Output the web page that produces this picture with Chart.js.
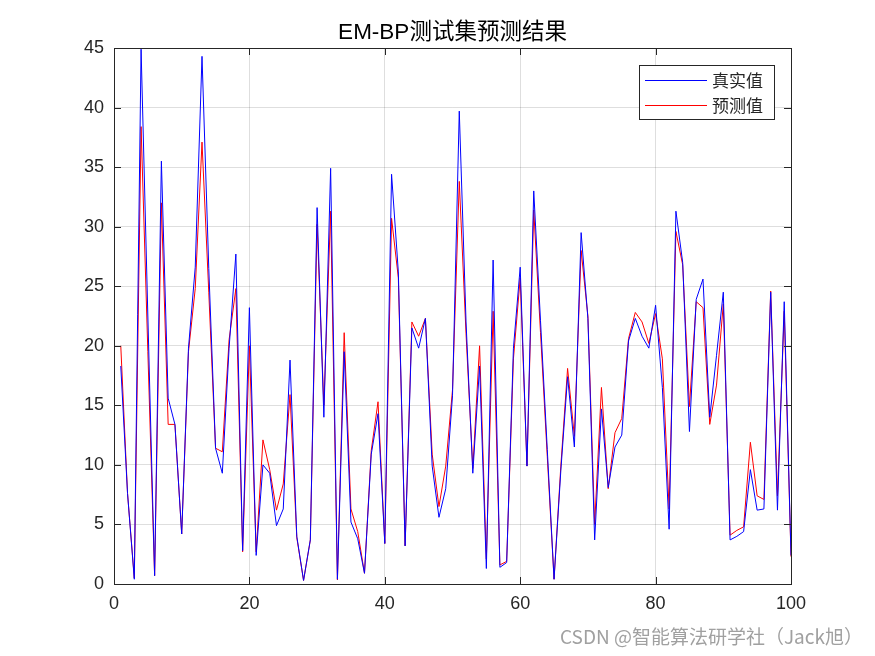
<!DOCTYPE html>
<html lang="zh">
<head>
    <meta charset="UTF-8">
    <title>EM-BP测试集预测结果</title>
    <script src="https://cdn.jsdelivr.net/npm/chart.js"></script>
    <style>
        body { margin: 0; background: #fff; }
        #wrap { position: relative; width: 875px; height: 656px; }
        #mark {
            position: absolute; right: 12px; top: 622px;
            font: 19px 'Noto Sans CJK SC', 'Liberation Sans', sans-serif;
            color: #a0a0a0;
        }
    </style>
</head>
<body>
<div id="wrap">
    <canvas id="myChart" width="875" height="656"></canvas>
    <div id="mark">CSDN @智能算法研学社（Jack旭）</div>
</div>

<script>
    const samples = [1,2,3,4,5,6,7,8,9,10,11,12,13,14,15,16,17,18,19,20,
        21,22,23,24,25,26,27,28,29,30,31,32,33,34,35,36,37,38,39,40,
        41,42,43,44,45,46,47,48,49,50,51,52,53,54,55,56,57,58,59,60,
        61,62,63,64,65,66,67,68,69,70,71,72,73,74,75,76,77,78,79,80,
        81,82,83,84,85,86,87,88,89,90,91,92,93,94,95,96,97,98,99,100];

    const trueVals = [18.3, 7.6, 0.4, 44.9, 22.5, 0.7, 35.5, 15.6, 13.4, 4.2,
        19.8, 26.6, 44.3, 26.5, 11.4, 9.3, 19.8, 27.7, 2.8, 23.2,
        2.4, 10.0, 9.3, 4.9, 6.3, 18.8, 4.0, 0.3, 3.7, 31.6,
        14.0, 34.9, 0.4, 19.5, 5.2, 3.8, 0.9, 10.9, 14.3, 3.4,
        34.4, 26.2, 3.2, 21.5, 19.8, 22.3, 9.9, 5.6, 8.0, 15.8,
        39.7, 22.0, 9.3, 18.3, 1.3, 27.2, 1.4, 1.8, 19.8, 26.6,
        9.9, 33.0, 22.1, 11.3, 0.4, 9.5, 17.4, 11.5, 29.5, 22.3,
        3.7, 14.7, 8.1, 11.5, 12.5, 20.4, 22.3, 20.8, 19.8, 23.4,
        16.5, 4.6, 31.3, 27.0, 12.8, 23.9, 25.6, 14.0, 19.2, 24.5,
        3.7, 4.0, 4.4, 9.6, 6.2, 6.3, 24.5, 6.2, 23.7, 2.4];

    const predVals = [20.0, 7.6, 0.5, 38.4, 19.5, 0.7, 32.0, 13.4, 13.4, 4.2,
        19.5, 24.8, 37.1, 24.5, 11.4, 11.1, 20.5, 24.8, 2.7, 20.0,
        2.7, 12.1, 9.6, 6.2, 8.4, 15.9, 3.9, 0.3, 3.7, 30.2,
        15.0, 31.3, 0.35, 21.1, 6.3, 4.4, 0.9, 11.2, 15.3, 3.4,
        30.7, 25.7, 3.2, 22.0, 20.8, 22.3, 10.9, 6.5, 9.9, 16.3,
        33.8, 21.0, 9.7, 20.0, 2.1, 22.9, 1.6, 1.9, 18.9, 25.7,
        9.9, 31.4, 21.1, 10.7, 0.4, 9.9, 18.1, 12.4, 28.0, 22.5,
        5.0, 16.5, 8.0, 12.7, 13.9, 20.6, 22.8, 22.0, 20.2, 22.7,
        18.9, 6.3, 29.6, 26.8, 14.9, 23.7, 23.2, 13.4, 16.7, 23.5,
        4.1, 4.5, 4.8, 11.9, 7.4, 7.1, 24.6, 7.4, 22.9, 2.3];

    const seriesNames = ['真实值', '预测值'];
    const chartTitle = 'EM-BP测试集预测结果';
    const xTicks = [0, 20, 40, 60, 80, 100];
    const yTicks = [0, 5, 10, 15, 20, 25, 30, 35, 40, 45];

    const latin = "'Liberation Sans', 'Noto Sans CJK SC', sans-serif";

    // MATLAB style box, inner ticks, title over the axes and legend
    const boxPlugin = {
        id: 'box',
        afterDraw(chart) {
            const ctx = chart.ctx;
            const a = chart.chartArea;
            const xs = chart.scales.x, ys = chart.scales.y;
            ctx.save();
            ctx.strokeStyle = '#262626';
            ctx.lineWidth = 1;
            ctx.beginPath();
            xTicks.forEach(v => {
                const px = Math.round(xs.getPixelForValue(v)) + 0.5;
                ctx.moveTo(px, a.bottom); ctx.lineTo(px, a.bottom - 7);
                ctx.moveTo(px, a.top); ctx.lineTo(px, a.top + 7);
            });
            yTicks.forEach(v => {
                const py = Math.round(ys.getPixelForValue(v)) + 0.5;
                ctx.moveTo(a.left, py); ctx.lineTo(a.left + 7, py);
                ctx.moveTo(a.right, py); ctx.lineTo(a.right - 7, py);
            });
            ctx.stroke();
            ctx.strokeRect(Math.round(a.left) + 0.5, Math.round(a.top) + 0.5,
                Math.round(a.right - a.left), Math.round(a.bottom - a.top));

            // title
            ctx.fillStyle = '#000';
            ctx.font = "22.5px " + latin;
            ctx.textAlign = 'center';
            ctx.textBaseline = 'middle';
            ctx.fillText(chartTitle, (a.left + a.right) / 2, 33);

            // legend
            ctx.textAlign = 'left';
            const lx = 639.5, ly = 65.5, lw = 135, lh = 54;
            ctx.fillStyle = '#fff';
            ctx.fillRect(lx, ly, lw, lh);
            ctx.strokeStyle = '#262626';
            ctx.strokeRect(lx, ly, lw, lh);
            ctx.font = "17px 'Noto Sans CJK SC', sans-serif";
            chart.data.datasets.forEach((ds, i) => {
                const yy = 80.5 + i * 25;
                ctx.strokeStyle = ds.borderColor;
                ctx.beginPath();
                ctx.moveTo(645, yy); ctx.lineTo(707, yy);
                ctx.stroke();
                ctx.fillStyle = '#262626';
                ctx.fillText(ds.label, 712, yy);
            });
            ctx.restore();
        }
    };

    const ctx = document.getElementById('myChart').getContext('2d');
    new Chart(ctx, {
        type: 'line',
        data: {
            labels: samples,
            datasets: [{
                label: seriesNames[0],
                data: trueVals,
                borderColor: 'rgb(0,0,255)',
                borderWidth: 1,
                pointRadius: 0,
                tension: 0,
                fill: false
            }, {
                label: seriesNames[1],
                data: predVals,
                borderColor: 'rgb(255,0,0)',
                borderWidth: 1,
                pointRadius: 0,
                tension: 0,
                fill: false
            }]
        },
        plugins: [boxPlugin],
        options: {
            responsive: false,
            animation: false,
            layout: { padding: { left: 0, right: 84, top: 48, bottom: 0 } },
            plugins: {
                legend: { display: false },
                tooltip: { enabled: false },
                title: { display: false }
            },
            scales: {
                x: {
                    type: 'linear',
                    min: 0, max: 100,
                    afterFit(s) { s.height = 72; },
                    afterBuildTicks(s) { s.ticks = xTicks.map(v => ({ value: v })); },
                    ticks: { color: '#262626', font: { family: latin, size: 18 }, padding: 9, maxRotation: 0 },
                    grid: { color: 'rgba(0,0,0,0.13)', drawTicks: false },
                    border: { display: false }
                },
                y: {
                    min: 0, max: 45,
                    afterFit(s) { s.width = 114; },
                    afterBuildTicks(s) { s.ticks = yTicks.map(v => ({ value: v })); },
                    ticks: { color: '#262626', font: { family: latin, size: 18 }, padding: 10 },
                    grid: { color: 'rgba(0,0,0,0.13)', drawTicks: false },
                    border: { display: false }
                }
            }
        }
    });
</script>
</body>
</html>
